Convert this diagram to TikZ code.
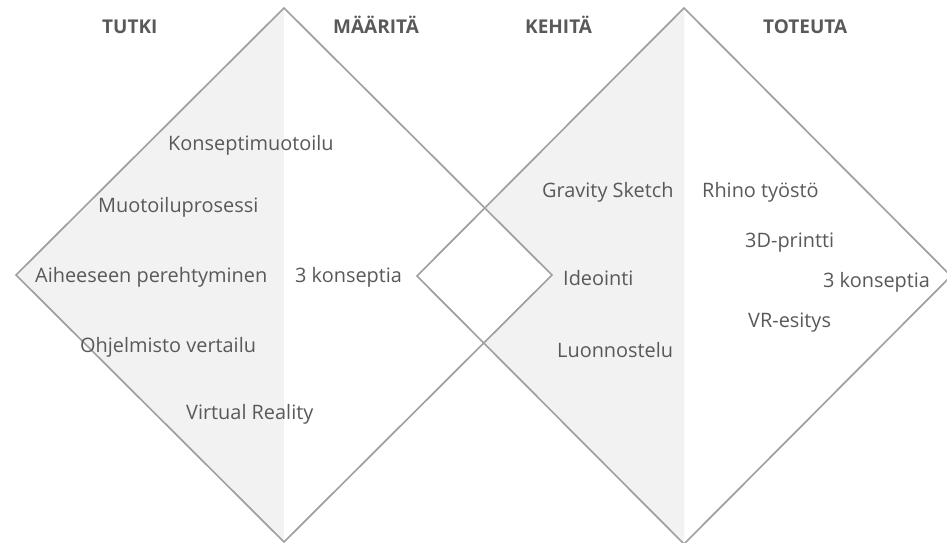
\documentclass[tikz,border=0pt]{standalone}
\usepackage{fontspec}
\setmainfont{Open Sans}
\definecolor{txt}{HTML}{595959}
\definecolor{ln}{HTML}{A0A0A0}
\definecolor{lightfill}{HTML}{F2F2F2}
\tikzset{
  lbl/.style={anchor=base west, inner sep=0pt, text=txt, font=\fontsize{19.9}{22}\selectfont},
  head/.style={anchor=base west, inner sep=0pt, text=txt, font=\fontsize{19}{22}\selectfont\bfseries},
  outline/.style={draw=ln, line width=1.7pt, line join=miter}
}
\begin{document}
\begin{tikzpicture}[x=1pt,y=-1pt]
\useasboundingbox (0,0) rectangle (947,542);
% corner coordinates
\coordinate (LT) at (284,8);
\coordinate (LL) at (16,275);
\coordinate (LB) at (284,542);
\coordinate (LR) at (552,275);
\coordinate (RT) at (684,8);
\coordinate (RL) at (417,276);
\coordinate (RB) at (684,544);
\coordinate (RR) at (951,276);
% fills
\fill[lightfill] (RT) -- (RL) -- (RB) -- cycle;
\fill[lightfill] (LT) -- (LL) -- (LB) -- cycle;
\fill[white] (LT) -- (LR) -- (LB) -- cycle;
% outlines
\draw[outline] (LT) -- (LR) -- (LB) -- (LL) -- cycle;
\draw[outline] (RT) -- (RR) -- (RB) -- (RL) -- cycle;
% headings
\node[head] (h1) at (102,33) {TUTKI};
\node[head] (h2) at (333,33) {MÄÄRITÄ};
\node[head] (h3) at (525,33) {KEHITÄ};
\node[head] (h4) at (763,33) {TOTEUTA};
% left diamond texts
\node[lbl] (a1) at (168,150) {Konseptimuotoilu};
\node[lbl] (a2) at (98,212) {Muotoiluprosessi};
\node[lbl] (a3) at (35,282) {Aiheeseen perehtyminen};
\node[lbl] (a4) at (295,282) {3 konseptia};
\node[lbl] (a5) at (80,352) {Ohjelmisto vertailu};
\node[lbl] (a6) at (186,419) {Virtual Reality};
% right diamond texts
\node[lbl] (b1) at (542,197) {Gravity Sketch};
\node[lbl] (b2) at (702,197) {Rhino työstö};
\node[lbl] (b3) at (745,247) {3D-printti};
\node[lbl] (b4) at (563,285) {Ideointi};
\node[lbl] (b5) at (823,287) {3 konseptia};
\node[lbl] (b6) at (748,327) {VR-esitys};
\node[lbl] (b7) at (557,357) {Luonnostelu};
\end{tikzpicture}
\end{document}
